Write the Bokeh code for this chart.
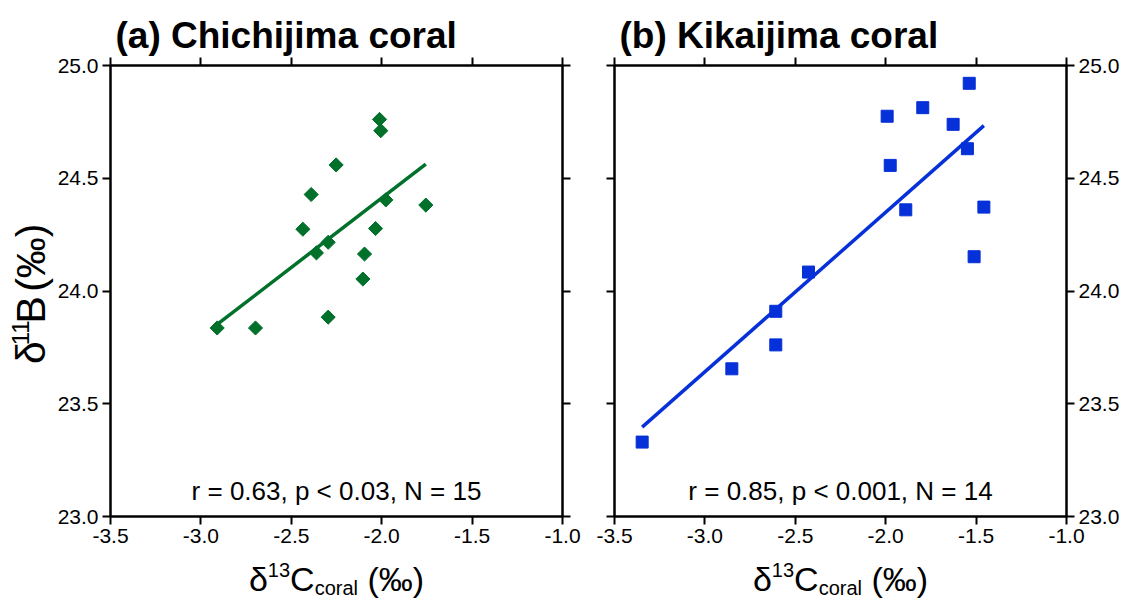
import numpy as np
from bokeh.plotting import figure
from bokeh.models import Range1d, LinearAxis, FixedTicker, PrintfTickFormatter, Title
from bokeh.core.properties import value
from bokeh.layouts import row, column
from bokeh.embed import file_html
from bokeh.resources import INLINE

# δ13C (‰) and δ11B (‰) of the Chichijima coral
chichi_d13c = [-2.910, -2.698, -2.436, -2.390, -2.252, -2.361, -2.296, -2.296,
               -2.104, -2.095, -2.034, -1.977, -2.012, -2.005, -1.756]
chichi_d11b = [23.836, 23.836, 24.274, 24.428, 24.559, 24.169, 24.216, 23.884,
               24.053, 24.164, 24.277, 24.404, 24.761, 24.711, 24.381]

# δ13C (‰) and δ11B (‰) of the Kikaijima coral
kikai_d13c = [-1.538, -1.992, -1.795, -1.627, -1.548, -1.975, -1.889, -1.457,
              -1.511, -2.427, -2.608, -2.608, -2.851, -3.347]
kikai_d11b = [24.921, 24.775, 24.813, 24.739, 24.631, 24.557, 24.360, 24.372,
              24.152, 24.084, 23.910, 23.761, 23.655, 23.330]

x_ticks = [-3.5, -3.0, -2.5, -2.0, -1.5, -1.0]
y_ticks = [23.0, 23.5, 24.0, 24.5, 25.0]

titles = ["(a) Chichijima coral", "(b) Kikaijima coral"]
stats = ["r = 0.63, p < 0.03, N = 15", "r = 0.85, p < 0.001, N = 14"]

FONT = "Liberation Sans"
GREEN = "#00702a"
BLUE = "#0630d8"

W_TOTAL, H_TOTAL = 1126, 598
YLAB_W = 54          # strip holding the rotated y title
ROW_H = 552          # height of the two panels
XLAB_H = H_TOTAL - ROW_H
FRAME_LEFT = 110     # left edge of the first frame on the page
FRAME_TOP, FRAME_BOTTOM = 65, 516
BASE_SHIFT = 0.27    # em the svg text baseline sits below the anchor

# Arial-metric advance widths (em) for the characters used in the axis titles
ADV = {"δ": 0.556, "1": 0.556, "3": 0.556, "C": 0.722, "B": 0.667, " ": 0.278,
       "(": 0.333, ")": 0.333, "‰": 1.0, "c": 0.5, "o": 0.556, "r": 0.333,
       "a": 0.556, "l": 0.222}


def text_width(s, size):
    return sum(ADV.get(ch, 0.556) for ch in s) * size


def style_axis(ax, ticks, show_labels):
    ax.ticker = FixedTicker(ticks=ticks)
    ax.formatter = PrintfTickFormatter(format="%.1f")
    ax.axis_line_width = 2
    ax.axis_line_color = "black"
    ax.major_tick_line_width = 2
    ax.major_tick_line_color = "black"
    ax.major_tick_out = 8
    ax.major_tick_in = 0
    ax.minor_tick_line_color = None
    ax.major_label_text_font = FONT
    if show_labels:
        ax.major_label_text_font_size = "21px"
        ax.major_label_text_color = "black"
        ax.major_label_standoff = 4
    else:
        ax.major_label_text_font_size = "1px"
        ax.major_label_text_color = None
        ax.major_label_standoff = 0


def make_panel(width, border_left, border_right, y_labels_left, title):
    p = figure(width=width, height=ROW_H,
               x_range=Range1d(-3.5, -1.0), y_range=Range1d(23.0, 25.0),
               output_backend="svg", toolbar_location=None,
               x_axis_location=None, y_axis_location=None,
               min_border_left=border_left, min_border_right=border_right,
               min_border_top=FRAME_TOP, min_border_bottom=ROW_H - FRAME_BOTTOM)
    p.xgrid.visible = False
    p.ygrid.visible = False
    p.outline_line_color = "black"
    p.outline_line_width = 2
    p.background_fill_color = "white"
    p.border_fill_color = "white"

    for loc, ticks, lab in [("below", x_ticks, True), ("above", x_ticks, False),
                            ("left", y_ticks, y_labels_left),
                            ("right", y_ticks, not y_labels_left)]:
        ax = LinearAxis()
        style_axis(ax, ticks, lab)
        p.add_layout(ax, loc)

    p.add_layout(Title(text=title, text_font=FONT, text_font_size="37px",
                       text_font_style="bold", text_color="black",
                       align="left", offset=5, standoff=4), "above")
    return p


def add_fit(p, xs, ys, color):
    slope, icpt = np.polyfit(xs, ys, 1)
    fx = np.array([min(xs), max(xs)])
    p.line(fx, slope * fx + icpt, line_color=color, line_width=3.5)


def add_stats(p, text):
    size = 26
    p.text(x=[-2.25], y=[23.0], text=[text], y_offset=-(18 + BASE_SHIFT * size),
           text_font=value(FONT), text_font_size=f"{size}px", text_color="black",
           text_align="center", text_baseline="alphabetic")


def text_strip(width, height):
    s = figure(width=width, height=height, x_range=Range1d(0, width),
               y_range=Range1d(0, height), output_backend="svg",
               toolbar_location=None, x_axis_location=None, y_axis_location=None,
               min_border=0)
    s.xgrid.visible = False
    s.ygrid.visible = False
    s.outline_line_color = None
    s.background_fill_color = "white"
    s.border_fill_color = "white"
    return s


def put(strip, x, y, s, size, angle=0.0):
    strip.text(x=[x], y=[y], text=[s], angle=angle, text_font=value(FONT),
               text_font_size=f"{size}px", text_color="black",
               text_align="left", text_baseline="alphabetic")


# panels -------------------------------------------------------------------
p1 = make_panel(588 - YLAB_W, FRAME_LEFT - YLAB_W, 26, True, titles[0])
add_fit(p1, chichi_d13c, chichi_d11b, GREEN)
p1.scatter(chichi_d13c, chichi_d11b, marker="square", angle=np.pi / 4, size=10,
           fill_color=GREEN, line_color=GREEN)
add_stats(p1, stats[0])

p2 = make_panel(W_TOTAL - 588, 26, 60, False, titles[1])
add_fit(p2, kikai_d13c, kikai_d11b, BLUE)
p2.scatter(kikai_d13c, kikai_d11b, marker="square", size=12,
           fill_color=BLUE, line_color=BLUE)
add_stats(p2, stats[1])

# rotated y title: δ11B (‰) ------------------------------------------------
# pieces: (text, font size, raise, extra space before it in em)
ylab = text_strip(YLAB_W, ROW_H)
F, f = 41, 24
pieces = [("δ", F, 0, 0), ("11", f, 16, 0), ("B", F, 0, 0), ("(‰)", F, 0, 0.278)]
total = sum(text_width(s, sz) + gap * sz for s, sz, _, gap in pieces)
a = (ROW_H - 287) - total / 2
for s, sz, rise, gap in pieces:
    a += gap * sz
    put(ylab, 42 - rise - BASE_SHIFT * sz, a, s, sz, angle=np.pi / 2)
    a += text_width(s, sz)

# x titles under each panel: δ13C_coral (‰) ---------------------------------
xlab = text_strip(W_TOTAL, XLAB_H)
F, f = 34, 20
pieces = [("δ", F, 0, 0), ("13", f, 13, 0), ("C", F, 0, 0), ("coral", f, -5, 0),
          ("(‰)", F, 0, 0.278)]
total = sum(text_width(s, sz) + gap * sz for s, sz, _, gap in pieces)
baseline = H_TOTAL - 588
for centre_x in (336, 840):
    a = centre_x - total / 2
    for s, sz, rise, gap in pieces:
        a += gap * sz
        put(xlab, a, baseline + rise + BASE_SHIFT * sz, s, sz)
        a += text_width(s, sz)

layout = column(row(ylab, p1, p2), xlab)
open("out.html", "w").write(file_html(layout, INLINE))
